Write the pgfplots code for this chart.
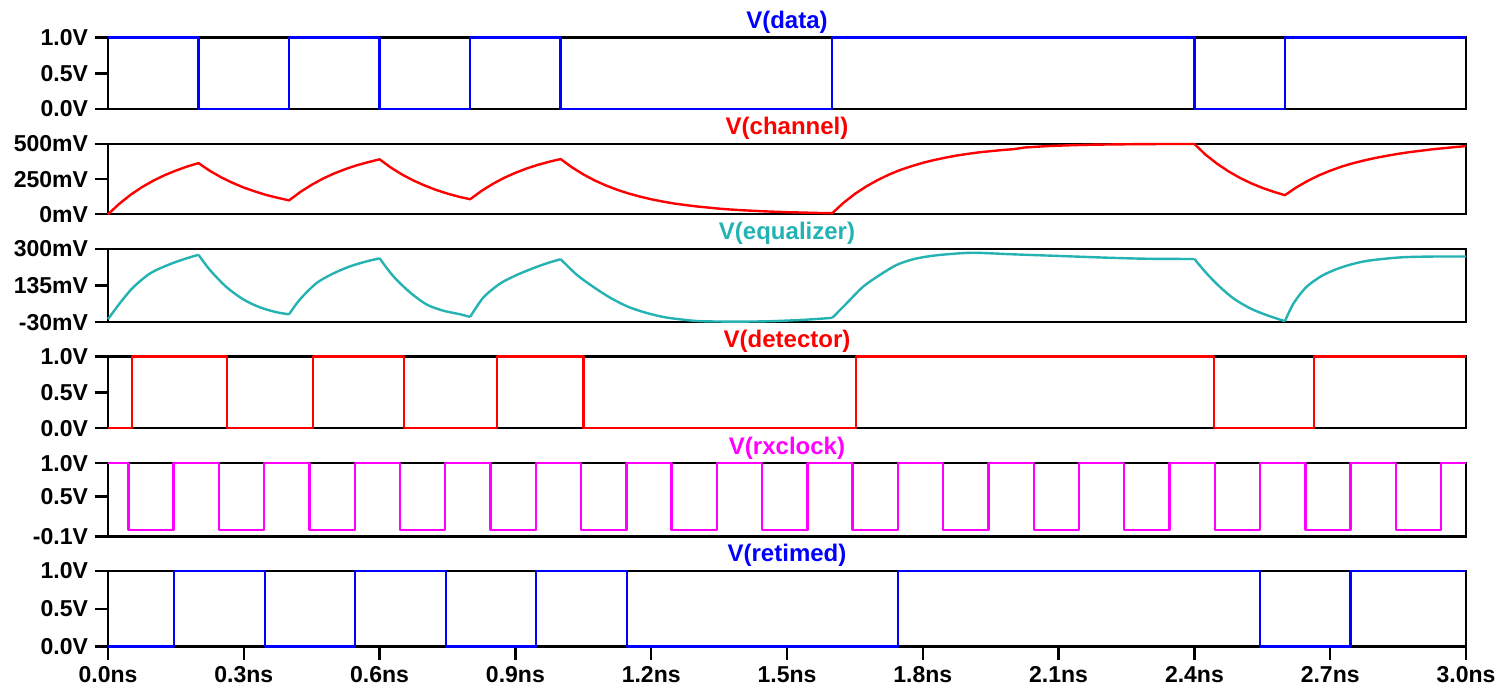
\documentclass[border=0pt]{standalone}
\usepackage{fontspec}
\setmainfont{Liberation Sans}
\usepackage{pgfplots}
\pgfplotsset{compat=1.18}

\definecolor{ltblue}{RGB}{0,0,255}
\definecolor{ltred}{RGB}{255,0,0}
\definecolor{ltteal}{RGB}{36,178,178}
\definecolor{ltmag}{RGB}{255,0,255}
\newcommand\lab{\fontsize{11.5}{13}\selectfont\bfseries}

\pgfplotsset{
  panel/.style={
    scale only axis, width=679pt, clip=false,
    xmin=0, xmax=3,
    axis line style={line width=1.2pt, black},
    tick style={line width=1.2pt, black},
    tick align=outside, major tick length=6.5pt,
    ytick pos=left, xtick=\empty,
    ticklabel style={font=\lab},
    title style={font=\fontsize{12}{14}\selectfont\bfseries, at={(0.5,1)}, anchor=base, yshift=-1.5pt},
    every axis plot/.append style={line width=1.2pt, line join=round},
  },
  eq/.style={ltteal, smooth, tension=0.5, no marks, solid},
}

\begin{document}
\begin{tikzpicture}
\useasboundingbox (0,0) rectangle (752.5pt,345pt);

% V(data)
\begin{axis}[panel, at={(54pt,290.5pt)}, anchor=south west, height=35.65pt,
  ymin=0, ymax=1, ytick={0,0.5,1}, yticklabels={0.0V,0.5V,1.0V},
  title={V(data)}, title style={text=ltblue}]
\addplot[ltblue] coordinates {(0,1)(0.2,1)(0.2,0)(0.4,0)(0.4,1)(0.6,1)(0.6,0)(0.8,0)(0.8,1)(1.0,1)(1.0,0)(1.6,0)(1.6,1)(2.4,1)(2.4,0)(2.6,0)(2.6,1)(3.0,1)};
\end{axis}

% V(channel), mV
\begin{axis}[panel, at={(54pt,237.85pt)}, anchor=south west, height=35.15pt,
  ymin=0, ymax=500, ytick={0,250,500}, yticklabels={0mV,250mV,500mV},
  title={V(channel)}, title style={text=ltred}]
\addplot[ltred] table {
0 0
0.025 75
0.05 139
0.075 193
0.1 239
0.125 278
0.15 311
0.175 340
0.2 364
0.225 309
0.25 263
0.275 224
0.3 190
0.325 162
0.35 137
0.375 117
0.4 99
0.425 159
0.45 210
0.475 254
0.5 291
0.525 322
0.55 349
0.575 371
0.6 391
0.625 332
0.65 282
0.675 240
0.7 204
0.725 173
0.75 147
0.775 125
0.8 107
0.825 166
0.85 216
0.875 259
0.9 295
0.925 326
0.95 352
0.975 374
1.0 393
1.025 334
1.05 284
1.075 241
1.1 205
1.125 174
1.15 148
1.175 126
1.2 107
1.225 91
1.25 77
1.275 66
1.3 56
1.325 48
1.35 40
1.375 34
1.4 29
1.425 25
1.45 21
1.475 18
1.5 15
1.525 13
1.55 11
1.575 9
1.6 8
1.625 82
1.65 145
1.675 198
1.7 243
1.725 282
1.75 315
1.775 342
1.8 366
1.825 386
1.85 403
1.875 418
1.9 430
1.925 441
1.95 449
1.975 457
2.0 463
2.025 475
2.05 480
2.075 485
2.1 488
2.125 491
2.15 493
2.175 495
2.2 496
2.225 497
2.25 498
2.275 499
2.3 499
2.325 500
2.35 500
2.375 500
2.4 500
2.425 423
2.45 360
2.475 306
2.5 260
2.525 221
2.55 188
2.575 160
2.6 136
2.625 191
2.65 237
2.675 277
2.7 310
2.725 339
2.75 363
2.775 383
2.8 401
2.825 416
2.85 430
2.875 442
2.9 452
2.925 462
2.95 470
2.975 478
3.0 485
};
\end{axis}

% V(equalizer), mV -- one smooth piece between each pair of bit edges
\begin{axis}[panel, at={(54pt,183.85pt)}, anchor=south west, height=36.65pt,
  ymin=-30, ymax=300, ytick={-30,135,300}, yticklabels={-30mV,135mV,300mV},
  title={V(equalizer)}, title style={text=ltteal}]
\addplot[eq] table {
0 -16
0.027 58
0.056 128
0.093 190
0.13 226
0.166 253
0.2 274
};
\addplot[eq] table {
0.2 274
0.225 206
0.262 128
0.299 73
0.336 37
0.373 15
0.4 6
};
\addplot[eq] table {
0.4 6
0.424 73
0.461 147
0.498 190
0.535 222
0.571 244
0.6 258
};
\addplot[eq] table {
0.6 258
0.63 178
0.667 105
0.704 50
0.741 22
0.778 6
0.8 -6
};
\addplot[eq] table {
0.8 -6
0.829 81
0.866 144
0.903 183
0.94 214
0.97 236
1.0 254
};
\addplot[eq] table {
1.0 254
1.035 185
1.071 131
1.11 80
1.15 39
1.19 12
1.229 -7
1.27 -18
1.308 -25
1.387 -27
1.465 -25
1.544 -18
1.6 -10
};
\addplot[eq] table {
1.6 -10
1.632 56
1.668 130
1.705 183
1.742 228
1.779 254
1.816 268
1.853 276
1.911 283
2.0 276
2.11 268
2.22 260
2.3 256
2.4 255
};
\addplot[eq] table {
2.4 255
2.427 190
2.456 130
2.486 78
2.523 33
2.56 2
2.6 -25
};
\addplot[eq] table {
2.6 -25
2.619 55
2.648 130
2.685 183
2.729 220
2.78 246
2.854 262
2.928 266
3.0 266
};
\end{axis}

% V(detector)
\begin{axis}[panel, at={(54pt,130.85pt)}, anchor=south west, height=35.8pt,
  ymin=0, ymax=1, ytick={0,0.5,1}, yticklabels={0.0V,0.5V,1.0V},
  title={V(detector)}, title style={text=ltred}]
\addplot[ltred] coordinates {(0,0)(0.053,0)(0.053,1)(0.263,1)(0.263,0)(0.453,0)(0.453,1)(0.654,1)(0.654,0)(0.859,0)(0.859,1)(1.05,1)(1.05,0)(1.652,0)(1.652,1)(2.443,1)(2.443,0)(2.664,0)(2.664,1)(3.0,1)};
\end{axis}

% V(rxclock)
\begin{axis}[panel, at={(54pt,76.65pt)}, anchor=south west, height=36.7pt,
  ymin=-0.1, ymax=1, ytick={-0.1,0.5,1}, yticklabels={-0.1V,0.5V,1.0V},
  title={V(rxclock)}, title style={text=ltmag}]
\addplot[ltmag] coordinates {(0,1)
(0.045,1)(0.045,0)(0.145,0)(0.145,1)
(0.245,1)(0.245,0)(0.345,0)(0.345,1)
(0.445,1)(0.445,0)(0.545,0)(0.545,1)
(0.645,1)(0.645,0)(0.745,0)(0.745,1)
(0.845,1)(0.845,0)(0.945,0)(0.945,1)
(1.045,1)(1.045,0)(1.145,0)(1.145,1)
(1.245,1)(1.245,0)(1.345,0)(1.345,1)
(1.445,1)(1.445,0)(1.545,0)(1.545,1)
(1.645,1)(1.645,0)(1.745,0)(1.745,1)
(1.845,1)(1.845,0)(1.945,0)(1.945,1)
(2.045,1)(2.045,0)(2.145,0)(2.145,1)
(2.245,1)(2.245,0)(2.345,0)(2.345,1)
(2.445,1)(2.445,0)(2.545,0)(2.545,1)
(2.645,1)(2.645,0)(2.745,0)(2.745,1)
(2.845,1)(2.845,0)(2.945,0)(2.945,1)
(3.0,1)};
\end{axis}

% V(retimed)
\begin{axis}[panel, at={(54pt,21.65pt)}, anchor=south west, height=37.85pt,
  ymin=0, ymax=1, ytick={0,0.5,1}, yticklabels={0.0V,0.5V,1.0V},
  xtick={0,0.3,0.6,0.9,1.2,1.5,1.8,2.1,2.4,2.7,3.0},
  xticklabels={0.0ns,0.3ns,0.6ns,0.9ns,1.2ns,1.5ns,1.8ns,2.1ns,2.4ns,2.7ns,3.0ns},
  xtick pos=bottom,
  title={V(retimed)}, title style={text=ltblue}]
\addplot[ltblue] coordinates {(0,0)(0.146,0)(0.146,1)(0.347,1)(0.347,0)(0.545,0)(0.545,1)(0.747,1)(0.747,0)(0.945,0)(0.945,1)(1.146,1)(1.146,0)(1.745,0)(1.745,1)(2.545,1)(2.545,0)(2.745,0)(2.745,1)(3.0,1)};
\end{axis}
\end{tikzpicture}
\end{document}
